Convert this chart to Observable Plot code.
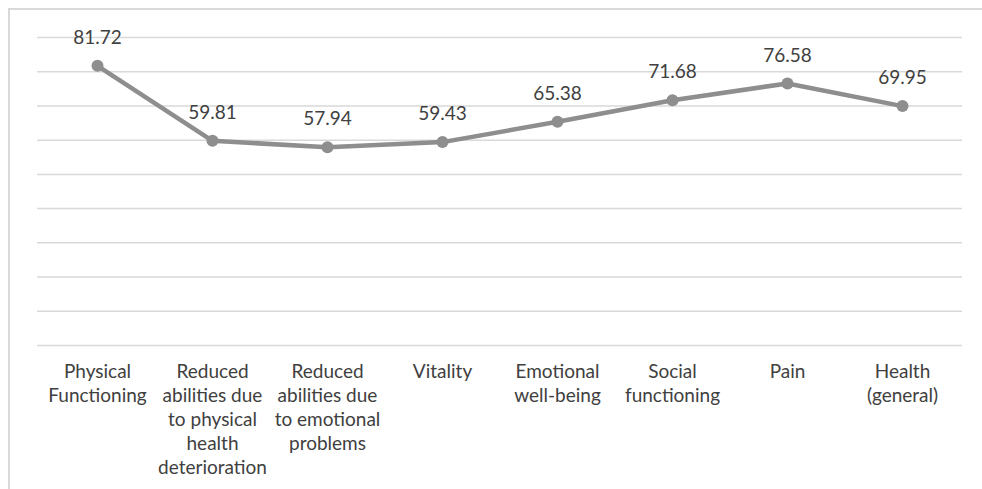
<!DOCTYPE html>
<html>
<head>
<meta charset="utf-8">
<script src="https://cdn.jsdelivr.net/npm/d3@7"></script>
<script src="https://cdn.jsdelivr.net/npm/@observablehq/plot@0.6"></script>
<style>
  html, body { margin: 0; padding: 0; background: #fff; }
  #wrap { position: relative; width: 982px; height: 489px; overflow: hidden; }
  #border { position: absolute; left: 8px; top: 8px; width: 2000px; height: 2000px;
            border-left: 2px solid #d9d9d9; border-top: 2px solid #d9d9d9; }
  #chart { position: absolute; left: 0; top: 0; }
</style>
</head>
<body>
<div id="wrap"><div id="border"></div><div id="chart"></div></div>
<script>
const categories = [
  "Physical\nFunctioning",
  "Reduced\nabilities due\nto physical\nhealth\ndeterioration",
  "Reduced\nabilities due\nto emotional\nproblems",
  "Vitality",
  "Emotional\nwell-being",
  "Social\nfunctioning",
  "Pain",
  "Health\n(general)"
];
const values = [81.72, 59.81, 57.94, 59.43, 65.38, 71.68, 76.58, 69.95];
const yTicks = [0, 10, 20, 30, 40, 50, 60, 70, 80, 90];

const data = categories.map((c, i) => ({category: c, value: values[i]}));
const font = "Lato, 'Open Sans', sans-serif";

const plot = Plot.plot({
  width: 982,
  height: 489,
  marginLeft: 37,
  marginRight: 20,
  marginTop: 37,
  marginBottom: 144,
  style: {fontFamily: font, fontSize: "19px", color: "#404040", background: "transparent"},
  x: {type: "point", domain: categories, padding: 0.5, label: null},
  y: {domain: [0, 90], label: null, axis: null},
  marks: [
    Plot.ruleY(yTicks, {stroke: "#d9d9d9", strokeWidth: 1.5, strokeOpacity: 1}),
    Plot.axisX({tickSize: 0, tickPadding: 15, lineHeight: 1.27, fontSize: 19, fill: "#404040", label: null}),
    Plot.line(data, {x: "category", y: "value", stroke: "#8e8e8e", strokeWidth: 4.5}),
    Plot.dot(data, {x: "category", y: "value", r: 6, fill: "#8e8e8e", stroke: "none"}),
    Plot.text(data, {x: "category", y: "value", text: d => d.value.toFixed(2), dy: -28, fill: "#404040", fontSize: 19})
  ]
});
document.getElementById("chart").appendChild(plot);
</script>
</body>
</html>
